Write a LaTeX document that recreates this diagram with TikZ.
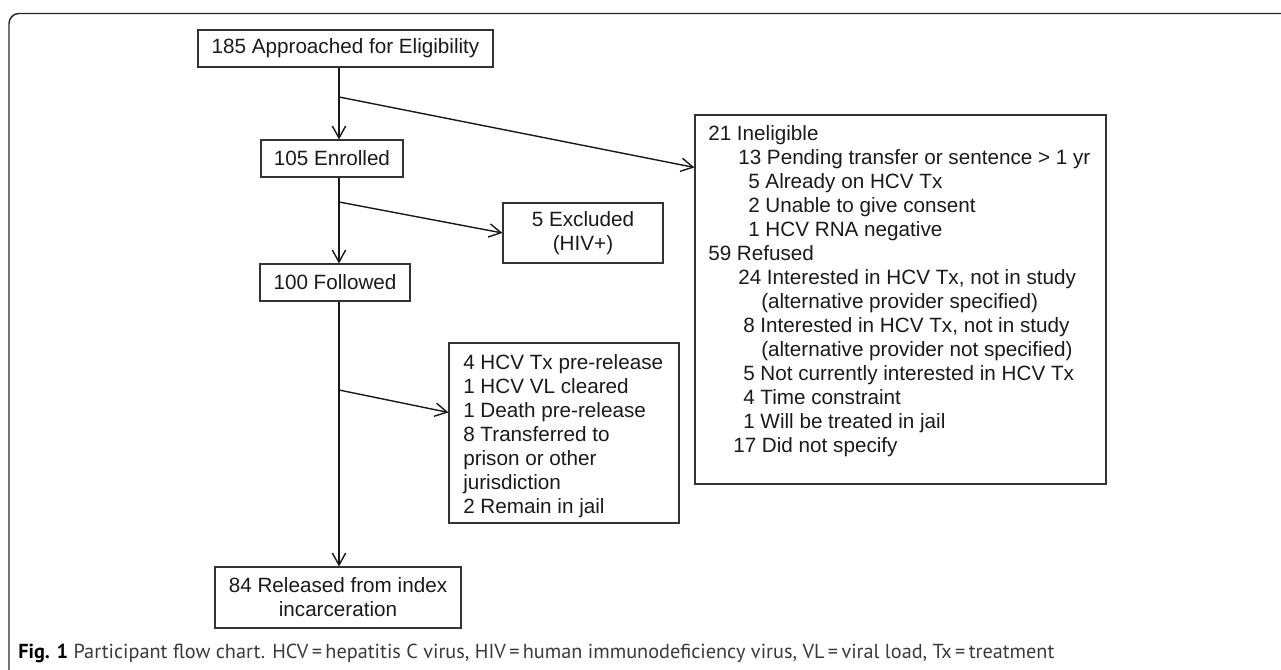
\documentclass[tikz,border=0pt]{standalone}
\usepackage{fontspec}
\setmainfont{Liberation Sans}
\newfontfamily\capfont{PT Sans}
\usetikzlibrary{arrows.meta,calc}
\newlength\pxu
\setlength\pxu{0.75pt}
\definecolor{ink}{HTML}{1A1A1A}
\definecolor{boxline}{HTML}{333333}
\definecolor{capgray}{HTML}{3A3A3A}
\begin{document}
\begin{tikzpicture}[x=0.75pt,y=-0.75pt,
  mainfs/.style={font=\fontsize{15.5}{18}\selectfont, text=ink},
  flowbox/.style={draw=boxline, line width=0.8pt, rectangle, inner sep=2pt, align=center, mainfs},
  arr/.style={draw=black!90, line width=1.05pt, -{Straight Barb[length=9pt,width=10pt,line width=1.05pt]}},
  frameline/.style={draw=black!85, line width=1.1pt, rounded corners=7.5pt}]
\useasboundingbox (0,0) rectangle (1281,670);
\draw[frameline] (9,670) -- (9,13.5) -- (1281,13.5);

\node[flowbox, minimum width=295\pxu, minimum height=37\pxu] (appr) at (345.5,48.5) {185 Approached for Eligibility};
\node[flowbox, minimum width=142\pxu, minimum height=37\pxu] (enr) at (332,158.5) {105 Enrolled};
\node[flowbox, minimum width=150\pxu, minimum height=37\pxu] (fol) at (335,282.5) {100 Followed};
\node[flowbox, minimum width=160\pxu, minimum height=60\pxu] (excl) at (583,233) {5 Excluded\\(HIV+)};
\node[flowbox, minimum width=246\pxu, minimum height=61\pxu] (rel) at (338,597.5) {84 Released from index\\incarceration};
\node[flowbox, minimum width=230\pxu, minimum height=180\pxu] (out) at (564,433) {};
\node[flowbox, minimum width=411\pxu, minimum height=369\pxu] (inel) at (900.5,299.5) {};

\node[mainfs, anchor=north west, align=left, inner sep=0] (outtxt) at (463,354.6) {4 HCV Tx pre-release\\
1 HCV VL cleared\\
1 Death pre-release\\
8 Transferred to\\
prison or other\\
jurisdiction\\
2 Remain in jail};

\node[mainfs, anchor=north west, align=left, inner sep=0] (ineltxt) at (708,125.5) {21 Ineligible\\
\hspace*{30\pxu}13 Pending transfer or sentence > 1 yr\\
\hspace*{40\pxu}5 Already on HCV Tx\\
\hspace*{40\pxu}2 Unable to give consent\\
\hspace*{40\pxu}1 HCV RNA negative\\
59 Refused\\
\hspace*{30\pxu}24 Interested in HCV Tx, not in study\\
\hspace*{53\pxu}(alternative provider specified)\\
\hspace*{35\pxu}8 Interested in HCV Tx, not in study\\
\hspace*{53\pxu}(alternative provider not specified)\\
\hspace*{35\pxu}5 Not currently interested in HCV Tx\\
\hspace*{35\pxu}4 Time constraint\\
\hspace*{35\pxu}1 Will be treated in jail\\
\hspace*{25\pxu}17 Did not specify};

\coordinate (b1) at (339,97);
\coordinate (b2) at (339,202);
\coordinate (b3) at (339,390);

\draw[arr] (appr.south -| b1) -- (enr.north -| b1);
\draw[arr] (b1) -- ($(inel.north west)+(0,53)$);
\draw[arr] (enr.south -| b2) -- (fol.north -| b2);
\draw[arr] (b2) -- (excl.west);
\draw[arr] (fol.south -| b3) -- (rel.north -| b3);
\draw[arr] (b3) -- ($(out.north west)+(0,70)$);

\node[anchor=base west, inner sep=0, text=capgray, font=\capfont\fontsize{15.2}{18}\selectfont] (cap) at (18,658)
 {\textcolor{black}{\textbf{Fig. 1}} Participant flow chart. HCV\,=\,hepatitis C virus, HIV\,=\,human immunodeficiency virus, VL\,=\,viral load, Tx\,=\,treatment};
\end{tikzpicture}
\end{document}
